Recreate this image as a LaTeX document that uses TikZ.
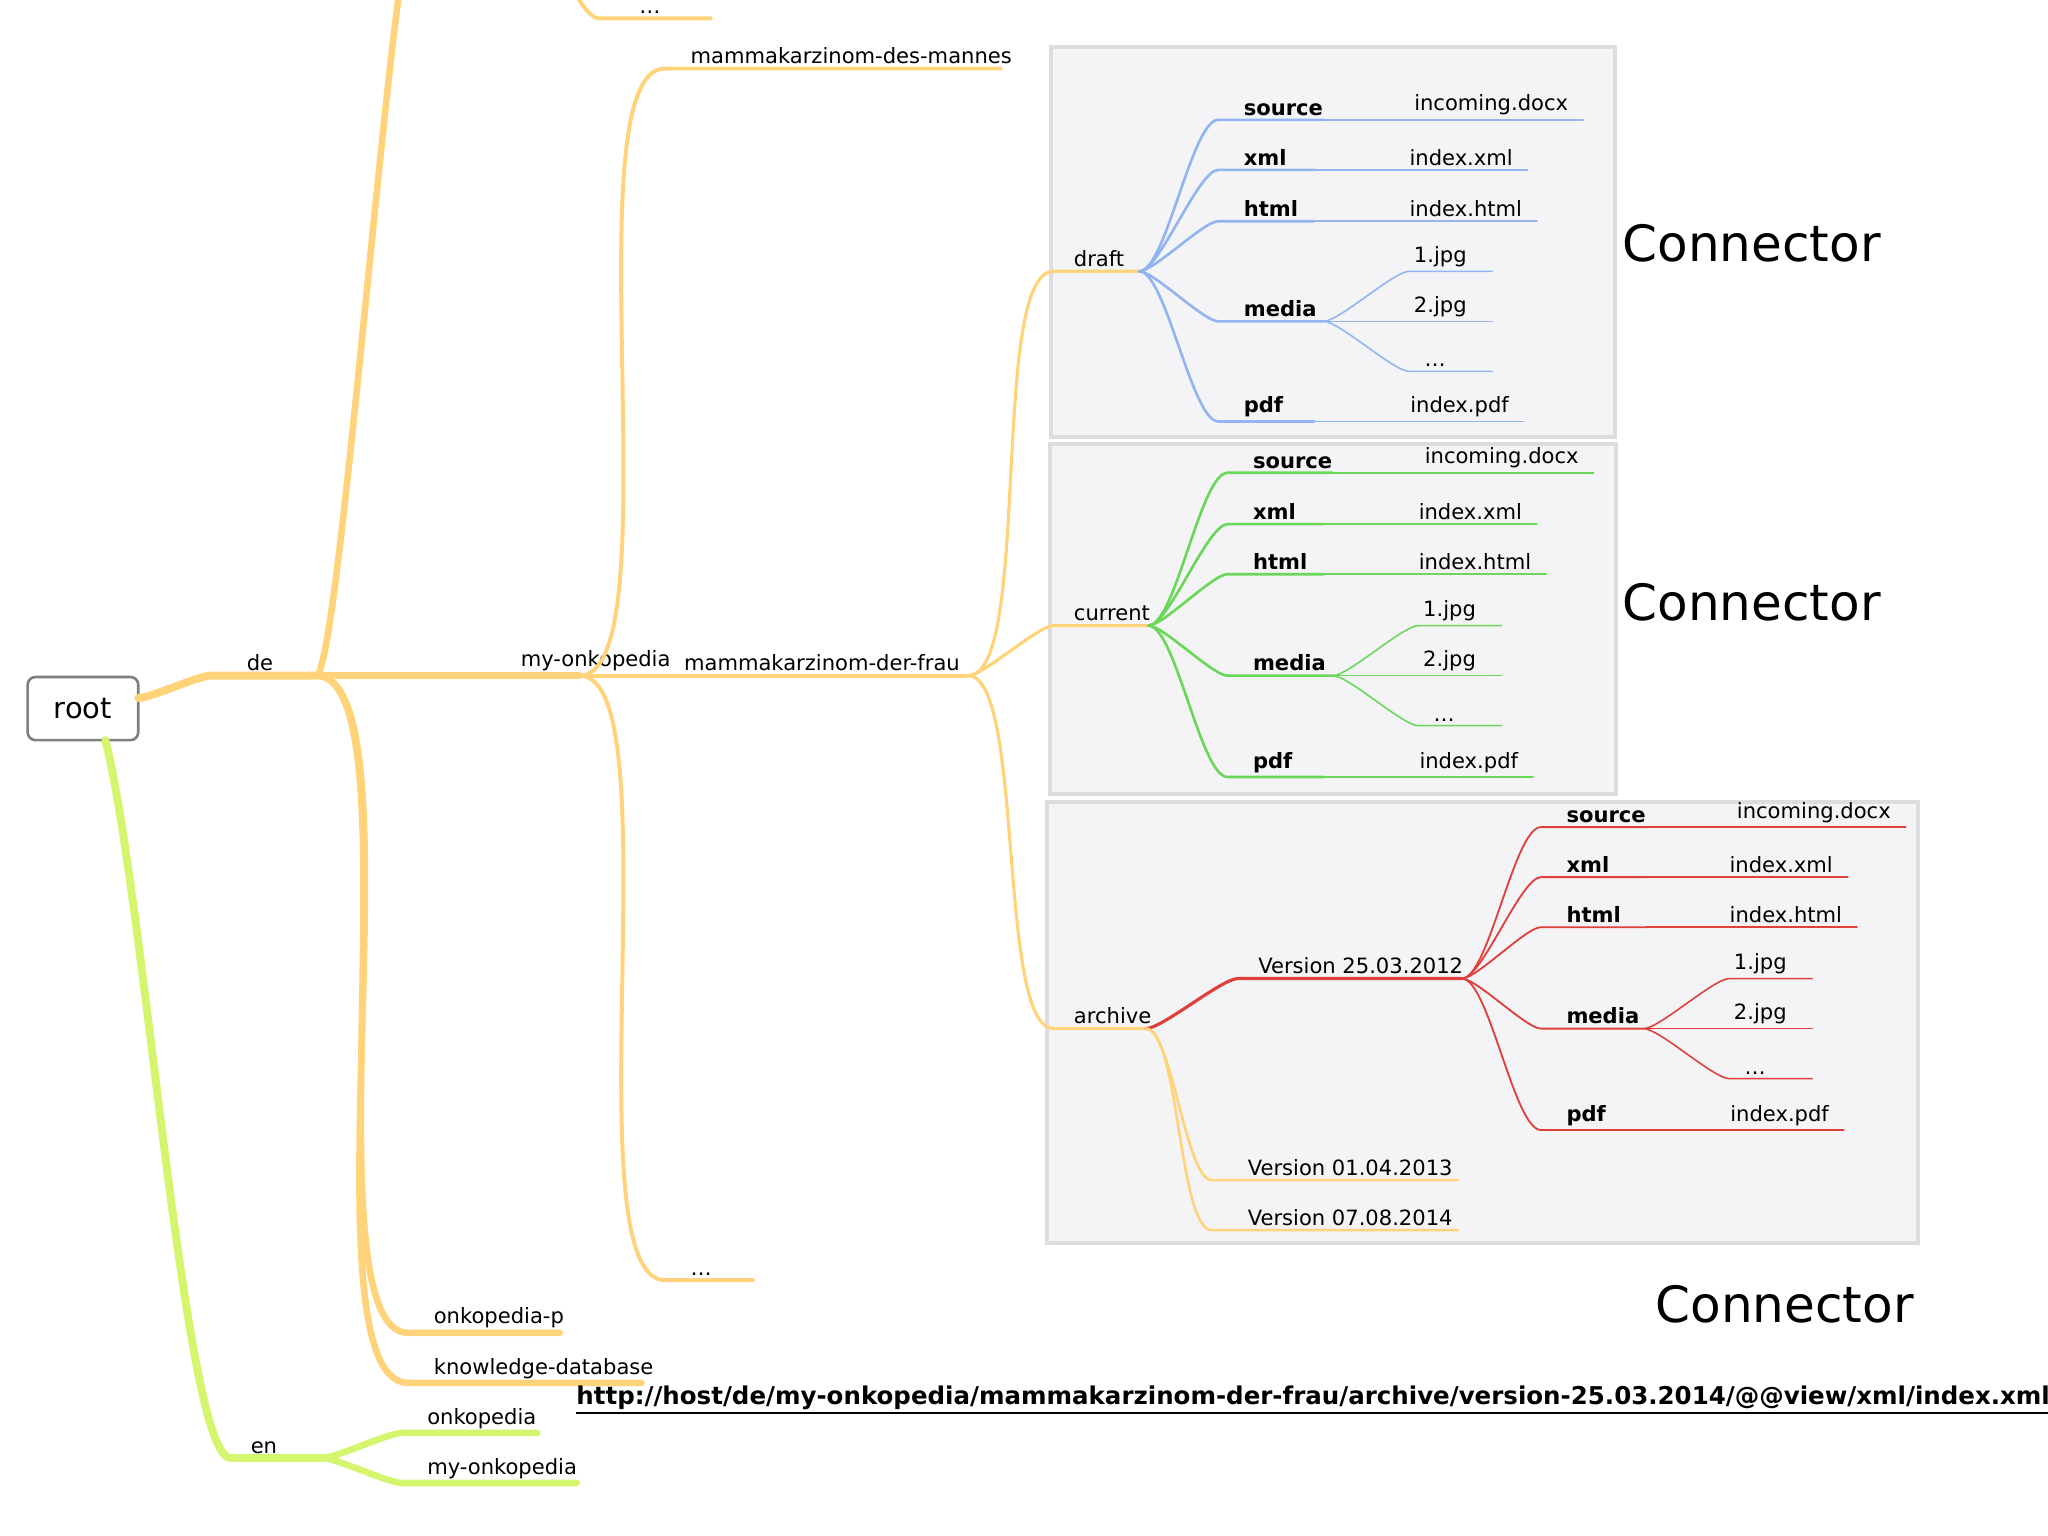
\documentclass[tikz,border=0pt]{standalone}
\usepackage{fontspec}
\setmainfont{DejaVu Sans}
\definecolor{orng}{HTML}{FFD37A}
\definecolor{lime}{HTML}{D5F56E}
\definecolor{blu}{HTML}{92B4F0}
\definecolor{grn}{HTML}{6BD75A}
\definecolor{rd}{HTML}{E0403C}
\definecolor{boxfill}{HTML}{F4F4F6}
\definecolor{boxline}{HTML}{DDDDE0}

% a branch: parent, name, x start, x end, y, text, line style, text style
\newcommand{\twig}[8]{%
  \coordinate (#2) at (#4,#5);
  \draw [#7] (#1) to [out=0,in=180,looseness=.4] (#3,#5) -- (#2);
  \node (#2-t) [lbl,#8] at (#3,#5) {#6};}
% a leaf: parent, name, x end, y, text, line style
\newcommand{\leaf}[6]{%
  \coordinate (#2) at (#3,#4);
  \draw [#6] (#1) -- (#2);
  \node (#2-t) [leaflbl] at (#2) {#5};}

\begin{document}
\begin{tikzpicture}[
  x=0.5pt, y=-0.5pt,
  line cap=round,
  lbl/.style={anchor=south west, inner sep=1.5pt, xshift=6pt, font=\fontsize{8}{9}\selectfont},
  leaflbl/.style={anchor=south east, inner sep=1.5pt, xshift=-4pt, font=\fontsize{8}{9}\selectfont},
  b/.style={font=\fontsize{8}{9}\selectfont\bfseries},
  big/.style={font=\fontsize{19}{22}\selectfont},
  cbox/.style={fill=boxfill, draw=boxline, line width=1.5pt},
]
\useasboundingbox (0,0) rectangle (1555,1166);
\clip (0,0) rectangle (1555,1166);

% boxes
\draw [cbox] (798,36) rectangle (1226,332);
\draw [cbox] (797,337) rectangle (1227,603);
\draw [cbox] (795,609) rectangle (1456,944);

% root
\node (root) [draw=gray, line width=1pt, rounded corners=3pt, fill=white,
  minimum width=42pt, minimum height=24pt, font=\fontsize{11}{13}\selectfont] at (63,538) {root};

% de
\coordinate (root-e) at (105,530);
\twig{root-e}{de}{160}{240}{513}{de}{orng, line width=3pt}{xshift=6pt}
\draw [orng, line width=2.5pt] (de) .. controls (255,513) and (285,120) .. (305,-20);
\draw [orng, line width=1.5pt] (420,-20) to [out=0,in=180,looseness=.6] (455,14) -- (540,14);
\node (top-dots) [lbl] at (470,14) {\dots};
\twig{de}{myonk}{240}{440}{513}{my-onkopedia}{orng, line width=2.5pt}{xshift=70pt}
\twig{de}{onkp}{310}{425}{1012}{onkopedia-p}{orng, line width=2.5pt}{xshift=2pt}
\twig{de}{kdb}{310}{487}{1050}{knowledge-database}{orng, line width=2.5pt}{xshift=2pt}

% my-onkopedia
\twig{myonk}{mdm}{505}{760}{52}{mammakarzinom-des-mannes}{orng, line width=1.5pt}{xshift=2pt}
\twig{myonk}{mdf}{440}{735}{513}{mammakarzinom-der-frau}{orng, line width=1.5pt}{xshift=32pt}
\twig{myonk}{mdots}{505}{572}{972}{\dots}{orng, line width=1.5pt}{xshift=2pt}

% mammakarzinom-der-frau
\twig{mdf}{draft}{800}{865}{206}{draft}{orng, line width=1.2pt}{xshift=0pt}
\twig{mdf}{cur}{800}{872}{475}{current}{orng, line width=1.2pt}{xshift=0pt}
\twig{mdf}{arch}{800}{870}{781}{archive}{orng, line width=1.2pt}{xshift=0pt}

% draft
\twig{draft}{d-src}{925}{1005}{91}{source}{blu, line width=1pt}{b,xshift=2pt}
\leaf{d-src}{d-src-l}{1202}{91}{incoming.docx}{blu, line width=.6pt}
\twig{draft}{d-xml}{925}{998}{129}{xml}{blu, line width=1pt}{b,xshift=2pt}
\leaf{d-xml}{d-xml-l}{1160}{129}{index.xml}{blu, line width=.6pt}
\twig{draft}{d-html}{925}{998}{168}{html}{blu, line width=1pt}{b,xshift=2pt}
\leaf{d-html}{d-html-l}{1167}{168}{index.html}{blu, line width=.6pt}
\twig{draft}{d-med}{925}{1005}{244}{media}{blu, line width=1pt}{b,xshift=2pt}
\twig{d-med}{d-j1}{1070}{1133}{206}{}{blu, line width=.6pt}{}
\node (d-j1-l) [leaflbl, xshift=-4pt] at (d-j1) {1.jpg};
\twig{d-med}{d-j2}{1070}{1133}{244}{}{blu, line width=.6pt}{}
\node (d-j2-l) [leaflbl, xshift=-4pt] at (d-j2) {2.jpg};
\twig{d-med}{d-j3}{1070}{1133}{282}{}{blu, line width=.6pt}{}
\node (d-j3-l) [leaflbl, xshift=-12pt] at (d-j3) {\dots};
\twig{draft}{d-pdf}{925}{998}{320}{pdf}{blu, line width=1pt}{b,xshift=2pt}
\leaf{d-pdf}{d-pdf-l}{1157}{320}{index.pdf}{blu, line width=.6pt}

% current
\twig{cur}{c-src}{932}{1012}{359}{source}{grn, line width=1pt}{b,xshift=2pt}
\leaf{c-src}{c-src-l}{1210}{359}{incoming.docx}{grn, line width=.6pt}
\twig{cur}{c-xml}{932}{1005}{398}{xml}{grn, line width=1pt}{b,xshift=2pt}
\leaf{c-xml}{c-xml-l}{1167}{398}{index.xml}{grn, line width=.6pt}
\twig{cur}{c-html}{932}{1005}{436}{html}{grn, line width=1pt}{b,xshift=2pt}
\leaf{c-html}{c-html-l}{1174}{436}{index.html}{grn, line width=.6pt}
\twig{cur}{c-med}{932}{1012}{513}{media}{grn, line width=1pt}{b,xshift=2pt}
\twig{c-med}{c-j1}{1077}{1140}{475}{}{grn, line width=.6pt}{}
\node (c-j1-l) [leaflbl, xshift=-4pt] at (c-j1) {1.jpg};
\twig{c-med}{c-j2}{1077}{1140}{513}{}{grn, line width=.6pt}{}
\node (c-j2-l) [leaflbl, xshift=-4pt] at (c-j2) {2.jpg};
\twig{c-med}{c-j3}{1077}{1140}{551}{}{grn, line width=.6pt}{}
\node (c-j3-l) [leaflbl, xshift=-12pt] at (c-j3) {\dots};
\twig{cur}{c-pdf}{932}{1005}{590}{pdf}{grn, line width=1pt}{b,xshift=2pt}
\leaf{c-pdf}{c-pdf-l}{1164}{590}{index.pdf}{grn, line width=.6pt}

% archive
\twig{arch}{v25}{940}{1110}{743}{Version 25.03.2012}{rd, line width=1.2pt}{xshift=0pt}
\twig{arch}{v01}{920}{1107}{896}{Version 01.04.2013}{orng, line width=1pt}{xshift=6pt}
\twig{arch}{v07}{920}{1107}{934}{Version 07.08.2014}{orng, line width=1pt}{xshift=6pt}

\twig{v25}{a-src}{1170}{1250}{628}{source}{rd, line width=.7pt}{b,xshift=2pt}
\leaf{a-src}{a-src-l}{1447}{628}{incoming.docx}{rd, line width=.6pt}
\twig{v25}{a-xml}{1170}{1250}{666}{xml}{rd, line width=.7pt}{b,xshift=2pt}
\leaf{a-xml}{a-xml-l}{1403}{666}{index.xml}{rd, line width=.6pt}
\twig{v25}{a-html}{1170}{1250}{704}{html}{rd, line width=.7pt}{b,xshift=2pt}
\leaf{a-html}{a-html-l}{1410}{704}{index.html}{rd, line width=.6pt}
\twig{v25}{a-med}{1170}{1248}{781}{media}{rd, line width=.7pt}{b,xshift=2pt}
\twig{a-med}{a-j1}{1313}{1376}{743}{}{rd, line width=.6pt}{}
\node (a-j1-l) [leaflbl, xshift=-4pt] at (a-j1) {1.jpg};
\twig{a-med}{a-j2}{1313}{1376}{781}{}{rd, line width=.6pt}{}
\node (a-j2-l) [leaflbl, xshift=-4pt] at (a-j2) {2.jpg};
\twig{a-med}{a-j3}{1313}{1376}{819}{}{rd, line width=.6pt}{}
\node (a-j3-l) [leaflbl, xshift=-12pt] at (a-j3) {\dots};
\twig{v25}{a-pdf}{1170}{1250}{858}{pdf}{rd, line width=.7pt}{b,xshift=2pt}
\leaf{a-pdf}{a-pdf-l}{1400}{858}{index.pdf}{rd, line width=.6pt}

% en
\coordinate (root-s) at (80,562);
\coordinate (en) at (245,1107);
\draw [lime, line width=3pt] (root-s) .. controls (110,680) and (140,1107) .. (175,1107) -- (en);
\node (en-t) [lbl] at (175,1107) {en};
\twig{en}{e-onk}{305}{408}{1088}{onkopedia}{lime, line width=2.5pt}{xshift=2pt}
\twig{en}{e-myonk}{305}{438}{1126}{my-onkopedia}{lime, line width=2.5pt}{xshift=2pt}

% captions
\node (con1) [big] at (1330,185) {Connector};
\node (con2) [big] at (1330,457) {Connector};
\node (con3) [big] at (1355,990) {Connector};
\node (url) [font=\fontsize{9.3}{11}\selectfont\bfseries] at (997,1063)
  {\underline{http://host/de/my-onkopedia/mammakarzinom-der-frau/archive/version-25.03.2014/@@view/xml/index.xml}};
\end{tikzpicture}
\end{document}
